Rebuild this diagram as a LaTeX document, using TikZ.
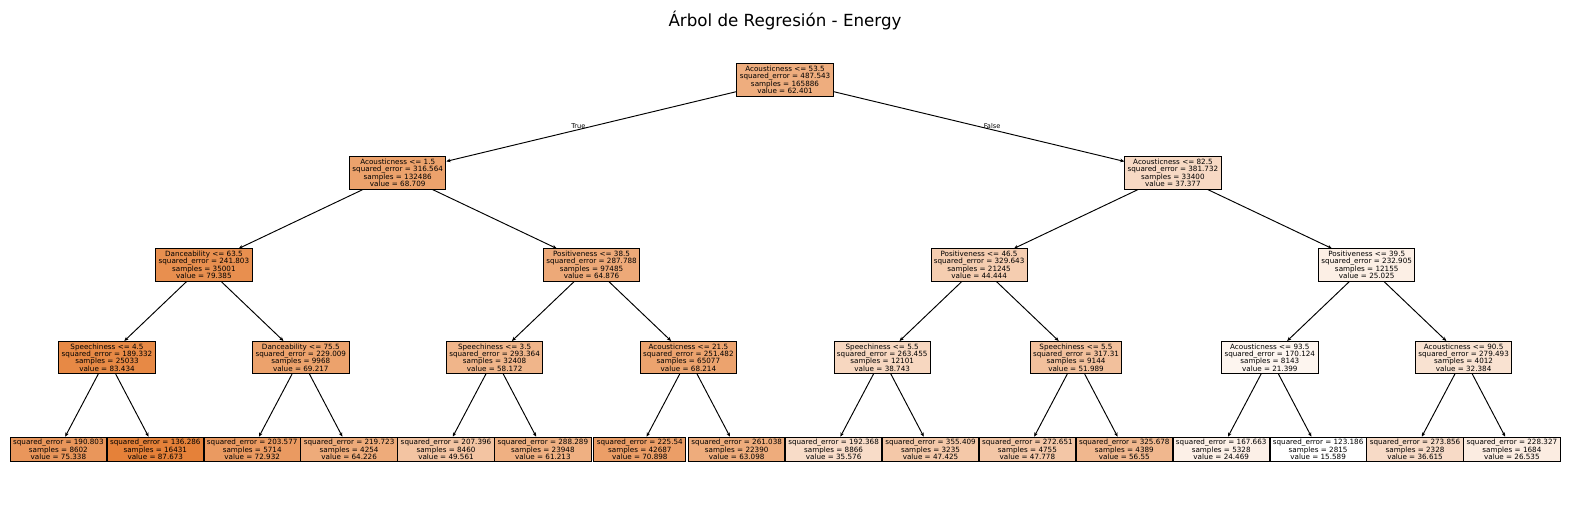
\documentclass[tikz,border=0pt]{standalone}
\usepackage{fontspec}
\setmainfont{DejaVu Sans}
\usetikzlibrary{arrows.meta}
\definecolor{treeorange}{RGB}{229,129,57}
\tikzset{
  box/.style={draw, line width=0.9pt, inner xsep=2.9pt, inner ysep=2.2pt, align=center, font=\fontsize{7.2}{7.4}\selectfont},
  edge/.style={line width=0.95pt, -{Stealth[length=4.2pt,width=3.6pt]}},
  lbl/.style={font=\fontsize{6.6}{7}\selectfont, anchor=south, inner sep=1pt}
}
\newcommand{\ntxt}[5]{#1 <= #2\\squared\_error = #3\\samples = #4\\value = #5}
\newcommand{\ltxt}[3]{squared\_error = #1\\samples = #2\\value = #3}

\begin{document}
\begin{tikzpicture}[x=1pt,y=-1pt]
\useasboundingbox (0,0) rectangle (1570,506);
\node (title) at (785,20) {\fontsize{16.7}{20}\selectfont Árbol de Regresión - Energy};

% root and first split
\node[box, fill=treeorange!65] (root) at (785,80) {\ntxt{Acousticness}{53.5}{487.543}{165886}{62.401}};
\node[box, fill=treeorange!74] (a0) at (397.7,173) {\ntxt{Acousticness}{1.5}{316.564}{132486}{68.709}};
\node[box, fill=treeorange!30] (a1) at (1172.9,173) {\ntxt{Acousticness}{82.5}{381.732}{33400}{37.377}};

\foreach \i/\f/\t/\se/\s/\v/\c in {0/Danceability/63.5/241.803/35001/79.385/89,
	1/Positiveness/38.5/287.788/97485/64.876/68,
	2/Positiveness/46.5/329.643/21245/44.444/40,
	3/Positiveness/39.5/232.905/12155/25.025/13} {
	\node[box, fill=treeorange!\c] (b\i) at (203.9+387.6*\i,265) {\ntxt{\f}{\t}{\se}{\s}{\v}};
}

\foreach \i/\f/\t/\se/\s/\v/\c in {0/Speechiness/4.5/189.332/25033/83.434/94,
	1/Danceability/75.5/229.009/9968/69.217/74,
	2/Speechiness/3.5/293.364/32408/58.172/59,
	3/Acousticness/21.5/251.482/65077/68.214/73,
	4/Speechiness/5.5/263.455/12101/38.743/32,
	5/Speechiness/5.5/317.31/9144/51.989/50,
	6/Acousticness/93.5/170.124/8143/21.399/8,
	7/Acousticness/90.5/279.493/4012/32.384/23} {
	\node[box, fill=treeorange!\c] (c\i) at (107+193.8*\i,357.5) {\ntxt{\f}{\t}{\se}{\s}{\v}};
}

% leaves
\foreach \i/\se/\s/\v/\c in {0/190.803/8602/75.338/83, 1/136.286/16431/87.673/100,
	2/203.577/5714/72.932/80, 3/219.723/4254/64.226/67,
	4/207.396/8460/49.561/47, 5/288.289/23948/61.213/63,
	6/225.54/42687/70.898/77, 7/261.038/22390/63.098/66,
	8/192.368/8866/35.576/28, 9/355.409/3235/47.425/44,
	10/272.651/4755/47.778/45, 11/325.678/4389/56.55/57,
	12/167.663/5328/24.469/12, 13/123.186/2815/15.589/0,
	14/273.856/2328/36.615/29, 15/228.327/1684/26.535/15} {
	\node[box, fill=treeorange!\c] (d\i) at (58.4+96.9*\i,449.5) {\ltxt{\se}{\s}{\v}};
}

\draw[edge] (root) -- node[lbl, pos=0.545] {True} (a0);
\draw[edge] (root) -- node[lbl, pos=0.545] {False} (a1);
\foreach \i in {0,...,3} {
	\pgfmathtruncatemacro\p{\i/2}
	\draw[edge] (a\p) -- (b\i);
}
\foreach \i in {0,...,7} {
	\pgfmathtruncatemacro\p{\i/2}
	\draw[edge] (b\p) -- (c\i);
}
\foreach \i in {0,...,15} {
	\pgfmathtruncatemacro\p{\i/2}
	\draw[edge] (c\p) -- (d\i);
}
\end{tikzpicture}
\end{document}
